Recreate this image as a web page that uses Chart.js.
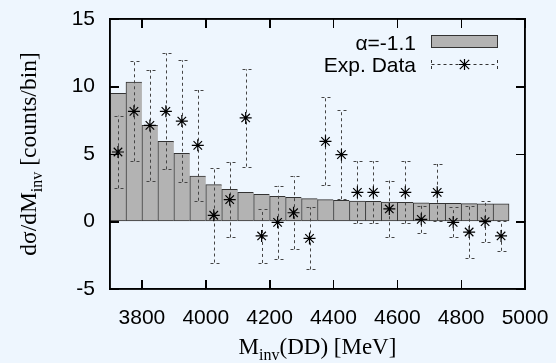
<!DOCTYPE html>
<html>
<head>
<meta charset="utf-8">
<script src="https://cdn.jsdelivr.net/npm/chart.js@4"></script>
<style>
  html, body { margin: 0; padding: 0; background: #eef6fe; }
</style>
</head>
<body>
<canvas id="c" width="556" height="363"></canvas>
<script>
// ---- data ----
const binCenters = [3725, 3775, 3825, 3875, 3925, 3975, 4025, 4075, 4125, 4175, 4225, 4275, 4325,
                    4375, 4425, 4475, 4525, 4575, 4625, 4675, 4725, 4775, 4825, 4875, 4925];
const modelValues = [9.5, 10.33, 7.12, 5.94, 5.05, 3.37, 2.73, 2.38, 2.16, 2.01, 1.86, 1.79, 1.69,
                     1.62, 1.57, 1.52, 1.49, 1.44, 1.42, 1.39, 1.35, 1.35, 1.33, 1.30, 1.30];
const dataValues = [5.15, 8.16, 7.12, 8.16, 7.44, 5.64, 0.46, 1.62, 7.67, -1.07, -0.06, 0.65, -1.25,
                    5.94, 4.95, 2.16, 2.16, 0.93, 2.16, 0.16, 2.16, -0.06, -0.78, -0.01, -1.07];
const dataErrors = [2.69, 3.7, 4.1, 4.3, 4.5, 4.1, 3.5, 2.8, 3.6, 2.0, 2.7, 2.7, 2.3,
                    3.26, 3.3, 2.3, 2.3, 2.1, 2.3, 1.0, 2.1, 1.1, 1.9, 1.5, 1.1];
const xTicks = [3800, 4000, 4200, 4400, 4600, 4800, 5000];
const yTicks = [-5, 0, 5, 10, 15];
const modelLabel = 'α=-1.1';
const dataLabel = 'Exp. Data';

const SANS = 'Liberation Sans, Arial, sans-serif';
const SERIF = 'Liberation Serif, Times New Roman, serif';
const BG = '#eef6fe';

function drawStar(c, x, y, r) {
  c.beginPath();
  c.moveTo(x - r, y); c.lineTo(x + r, y);
  c.moveTo(x, y - r); c.lineTo(x, y + r);
  const d = r * 0.85;
  c.moveTo(x - d, y - d); c.lineTo(x + d, y + d);
  c.moveTo(x - d, y + d); c.lineTo(x + d, y - d);
  c.stroke();
}
function partsWidth(c, parts, size, family) {
  let w = 0;
  for (const p of parts) {
    c.font = (p.sub ? Math.round(size * 0.7) : size) + 'px ' + family;
    w += c.measureText(p.t).width;
  }
  return w;
}
function drawParts(c, parts, x, y, size, family) {
  for (const p of parts) {
    c.font = (p.sub ? Math.round(size * 0.7) : size) + 'px ' + family;
    c.fillText(p.t, x, y + (p.sub ? size * 0.27 : 0));
    x += c.measureText(p.t).width;
  }
}

const decorPlugin = {
  id: 'decor',
  beforeDraw(chart) {
    const c = chart.ctx;
    c.save();
    c.fillStyle = BG;
    c.fillRect(0, 0, chart.width, chart.height);
    c.restore();
  },
  beforeDatasetDraw(chart, args) {
    if (args.index !== 1) return;
    const c = chart.ctx;
    const xs = chart.scales.x, ys = chart.scales.y;
    c.save();
    c.beginPath();
    c.rect(xs.left, ys.top, xs.right - xs.left, ys.bottom - ys.top);
    c.clip();
    c.strokeStyle = '#444';
    c.lineWidth = 1;
    c.setLineDash([3, 3]);
    for (let i = 0; i < binCenters.length; i++) {
      const px = Math.round(xs.getPixelForValue(binCenters[i])) + 0.5;
      const yt = ys.getPixelForValue(dataValues[i] + dataErrors[i]);
      const yb = ys.getPixelForValue(dataValues[i] - dataErrors[i]);
      c.beginPath();
      c.moveTo(px, yb); c.lineTo(px, yt);
      c.stroke();
      c.beginPath();
      c.moveTo(px - 4, Math.round(yt) + 0.5); c.lineTo(px + 5, Math.round(yt) + 0.5);
      c.moveTo(px - 4, Math.round(yb) + 0.5); c.lineTo(px + 5, Math.round(yb) + 0.5);
      c.stroke();
    }
    c.setLineDash([]);
    c.restore();
  },
  afterDraw(chart) {
    const c = chart.ctx;
    const xs = chart.scales.x, ys = chart.scales.y;
    const L = xs.left, R = xs.right, T = ys.top, B = ys.bottom;
    c.save();

    // legend
    const textRight = 416;
    const sampleL = 431.5, sampleR = 497.5;
    const row1 = 41.5, row2 = 64;
    c.fillStyle = '#000';
    c.textAlign = 'right';
    c.textBaseline = 'alphabetic';
    c.font = '21px ' + SANS;
    c.fillText(modelLabel, textRight, row1 + 8);
    c.fillText(dataLabel, textRight, row2 + 8);
    c.fillStyle = '#b3b3b3';
    c.fillRect(sampleL, row1 - 6, sampleR - sampleL, 12);
    c.strokeStyle = '#333';
    c.lineWidth = 1;
    c.strokeRect(sampleL, row1 - 6, sampleR - sampleL, 12);
    c.setLineDash([3, 3]);
    c.beginPath();
    c.moveTo(sampleL, row2 + 0.5); c.lineTo(sampleR, row2 + 0.5);
    c.moveTo(sampleL, row2 - 4); c.lineTo(sampleL, row2 + 5);
    c.moveTo(sampleR, row2 - 4); c.lineTo(sampleR, row2 + 5);
    c.stroke();
    c.setLineDash([]);
    c.strokeStyle = '#000';
    c.lineWidth = 1.2;
    drawStar(c, (sampleL + sampleR) / 2, row2 + 0.5, 5.5);

    // frame and inward ticks as thin filled rectangles
    c.fillStyle = '#000';
    const fw = 1.5;
    c.fillRect(L - fw / 2, T - fw / 2, R - L + fw, fw);
    c.fillRect(L - fw / 2, B - fw / 2, R - L + fw, fw);
    c.fillRect(L - fw / 2, T - fw / 2, fw, B - T + fw);
    c.fillRect(R - fw / 2, T - fw / 2, fw, B - T + fw);
    const tl = 9;
    for (const v of xTicks) {
      const px = Math.round(xs.getPixelForValue(v));
      c.fillRect(px, B - tl, 1, tl);
      c.fillRect(px, T, 1, tl);
    }
    for (const v of yTicks) {
      const py = Math.round(ys.getPixelForValue(v));
      c.fillRect(L, py, tl, 1);
      c.fillRect(R - tl, py, tl, 1);
    }

    // axis titles
    c.fillStyle = '#000';
    c.textAlign = 'left';
    c.textBaseline = 'alphabetic';
    const xParts = [{t: 'M'}, {t: 'inv', sub: true}, {t: '(DD) [MeV]'}];
    const xw = partsWidth(c, xParts, 23, SERIF);
    drawParts(c, xParts, (L + R) / 2 - xw / 2, 353.5, 23, SERIF);
    const yParts = [{t: 'dσ/dM'}, {t: 'inv', sub: true}, {t: ' [counts/bin]'}];
    const yw = partsWidth(c, yParts, 23.5, SERIF);
    c.translate(36, (T + B) / 2);
    c.rotate(-Math.PI / 2);
    drawParts(c, yParts, -yw / 2, 0, 23.5, SERIF);
    c.restore();
  }
};

const TICK_LEN = -9; // negative = tick marks point into the plot (gnuplot style)
const gridOpts = {display: true, drawOnChartArea: false, drawTicks: true, tickLength: TICK_LEN,
                  tickColor: '#000', tickWidth: 1, offset: false};
const borderOpts = {display: true, color: '#000', width: 1.5};

const lastIdx = binCenters.length - 1;
new Chart(document.getElementById('c'), {
  data: {
    datasets: [
      {
        type: 'bar',
        label: modelLabel,
        data: binCenters.map((x, i) => ({x: x, y: modelValues[i]})),
        backgroundColor: '#b3b3b3',
        borderColor: '#333333',
        borderWidth: (cx) => cx.dataIndex === lastIdx ? 1 : {top: 1, left: 1, bottom: 1, right: 0},
        borderSkipped: false,
        barPercentage: 1,
        categoryPercentage: 1,
        order: 2
      },
      {
        type: 'scatter',
        label: dataLabel,
        data: binCenters.map((x, i) => ({x: x, y: dataValues[i]})),
        pointStyle: 'star',
        pointRadius: 6,
        borderColor: '#000',
        borderWidth: 1.2,
        order: 1
      }
    ]
  },
  options: {
    responsive: false,
    animation: false,
    events: [],
    layout: {padding: {left: 0, right: 31, top: 19, bottom: 0}},
    plugins: {legend: {display: false}, tooltip: {enabled: false}},
    scales: {
      x: {
        type: 'linear', position: 'bottom', min: 3700, max: 5000, offset: false,
        grid: gridOpts, border: borderOpts,
        ticks: {font: {family: SANS, size: 21}, color: '#000', padding: 26, autoSkip: false, maxRotation: 0, minRotation: 0,
                callback: (v) => String(v)},
        afterBuildTicks: (s) => { s.ticks = xTicks.map(v => ({value: v})); },
        afterFit: (s) => { s.height = 74; s.paddingLeft = 0; s.paddingRight = 0; }
      },
      x2: {
        type: 'linear', axis: 'x', position: 'top', min: 3700, max: 5000, offset: false,
        grid: gridOpts, border: borderOpts,
        ticks: {display: false},
        afterBuildTicks: (s) => { s.ticks = xTicks.map(v => ({value: v})); },
        afterFit: (s) => { s.height = 0; s.paddingLeft = 0; s.paddingRight = 0; }
      },
      y: {
        type: 'linear', position: 'left', min: -5, max: 15,
        grid: gridOpts, border: borderOpts,
        ticks: {font: {family: SANS, size: 21}, color: '#000', padding: 24, callback: (v) => String(v)},
        afterBuildTicks: (s) => { s.ticks = yTicks.map(v => ({value: v})); },
        afterFit: (s) => { s.width = 110; s.paddingTop = 0; s.paddingBottom = 0; }
      },
      y2: {
        type: 'linear', axis: 'y', position: 'right', min: -5, max: 15,
        grid: gridOpts, border: borderOpts,
        ticks: {display: false},
        afterBuildTicks: (s) => { s.ticks = yTicks.map(v => ({value: v})); },
        afterFit: (s) => { s.width = 0; s.paddingTop = 0; s.paddingBottom = 0; }
      }
    }
  },
  plugins: [decorPlugin]
});
</script>
</body>
</html>
